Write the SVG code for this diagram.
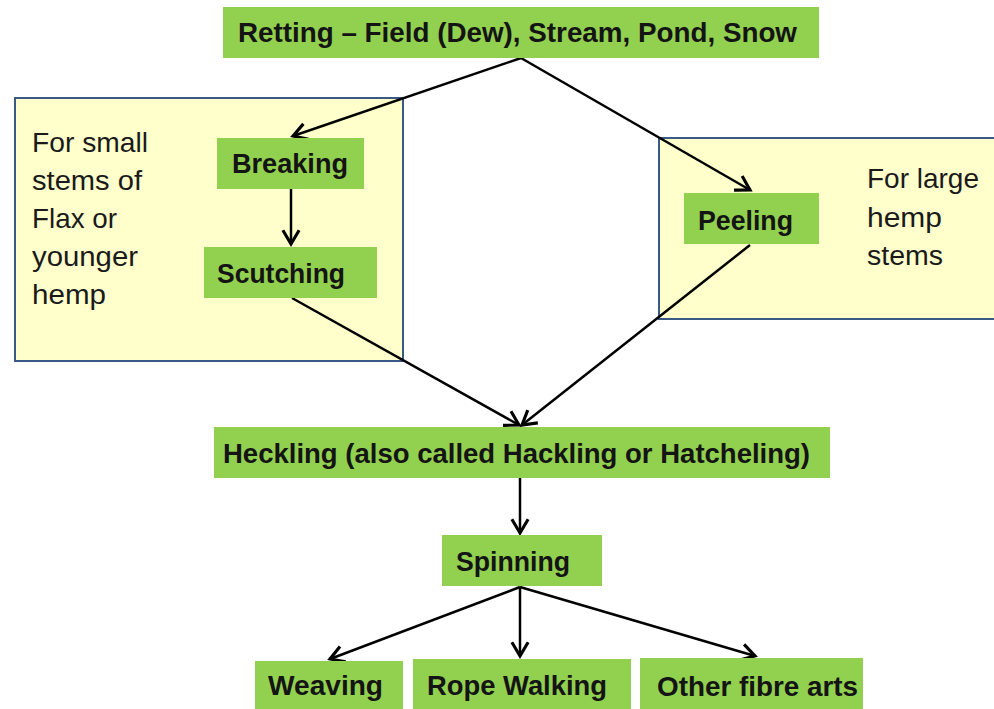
<svg xmlns="http://www.w3.org/2000/svg" width="994" height="709" viewBox="0 0 994 709">
<defs>
<style>
.panel{fill:#ffffcc;stroke:#3a5a86;stroke-width:2}
.box{fill:#92d050}
.lbl{font-family:"Liberation Sans",Arial,sans-serif;font-weight:bold;font-size:28px;fill:#141414}
.note{font-family:"Liberation Sans",Arial,sans-serif;font-size:27.5px;fill:#1a1a1a}
.edge{fill:none;stroke:#000;stroke-width:2.5;marker-end:url(#arr)}
</style>
<marker id="arr" markerUnits="userSpaceOnUse" markerWidth="20" markerHeight="20" refX="0" refY="0" viewBox="-12 -8 14 16" orient="auto" overflow="visible">
<path d="M-11,-6.5 L0,0 L-11,6.5" fill="none" stroke="#000" stroke-width="2.5" stroke-linejoin="miter"/>
</marker>
</defs>
<rect width="994" height="709" fill="#ffffff"/>

<g id="panel-small">
<rect class="panel" x="15" y="98" width="388" height="263"/>
<text class="note" x="32" y="152" textLength="116" lengthAdjust="spacingAndGlyphs">For small</text>
<text class="note" x="32" y="190" textLength="110" lengthAdjust="spacingAndGlyphs">stems of</text>
<text class="note" x="32" y="228" textLength="85" lengthAdjust="spacingAndGlyphs">Flax or</text>
<text class="note" x="32" y="266" textLength="106" lengthAdjust="spacingAndGlyphs">younger</text>
<text class="note" x="32" y="304" textLength="74" lengthAdjust="spacingAndGlyphs">hemp</text>
</g>

<g id="panel-large">
<rect class="panel" x="659" y="138" width="345" height="181"/>
<text class="note" x="867" y="188" textLength="112" lengthAdjust="spacingAndGlyphs">For large</text>
<text class="note" x="867" y="227" textLength="75" lengthAdjust="spacingAndGlyphs">hemp</text>
<text class="note" x="867" y="265" textLength="76" lengthAdjust="spacingAndGlyphs">stems</text>
</g>

<g id="connectors">
<path class="edge" d="M521,58 L293,136"/>
<path class="edge" d="M521,58 L750,190"/>
<path class="edge" d="M291,189 L291,244"/>
<path class="edge" d="M292,298 L519,425"/>
<path class="edge" d="M750,245 L522,425"/>
<path class="edge" d="M520,478 L520,533"/>
<path class="edge" d="M520,587 L330,659"/>
<path class="edge" d="M520,587 L520,656"/>
<path class="edge" d="M520,587 L755,656"/>
</g>

<g id="retting">
<rect class="box" x="223" y="7" width="596" height="51"/>
<text class="lbl" x="238" y="42" textLength="559" lengthAdjust="spacingAndGlyphs">Retting – Field (Dew), Stream, Pond, Snow</text>
</g>

<g id="breaking">
<rect class="box" x="217" y="138" width="147" height="51"/>
<text class="lbl" x="232" y="173" textLength="116" lengthAdjust="spacingAndGlyphs">Breaking</text>
</g>

<g id="scutching">
<rect class="box" x="204" y="247" width="173" height="51"/>
<text class="lbl" x="217" y="283" textLength="128" lengthAdjust="spacingAndGlyphs">Scutching</text>
</g>

<g id="peeling">
<rect class="box" x="684" y="193" width="135" height="51"/>
<text class="lbl" x="698" y="230" textLength="95" lengthAdjust="spacingAndGlyphs">Peeling</text>
</g>

<g id="heckling">
<rect class="box" x="214" y="427" width="616" height="51"/>
<text class="lbl" x="223" y="463" textLength="587" lengthAdjust="spacingAndGlyphs">Heckling (also called Hackling or Hatcheling)</text>
</g>

<g id="spinning">
<rect class="box" x="442" y="535" width="160" height="51"/>
<text class="lbl" x="456" y="571" textLength="114" lengthAdjust="spacingAndGlyphs">Spinning</text>
</g>

<g id="weaving">
<rect class="box" x="255" y="661" width="148" height="60"/>
<text class="lbl" x="268" y="695" textLength="115" lengthAdjust="spacingAndGlyphs">Weaving</text>
</g>

<g id="rope-walking">
<rect class="box" x="413" y="659" width="218" height="60"/>
<text class="lbl" x="427" y="695" textLength="180" lengthAdjust="spacingAndGlyphs">Rope Walking</text>
</g>

<g id="other-fibre-arts">
<rect class="box" x="640" y="658" width="223" height="60"/>
<text class="lbl" x="657" y="696" textLength="201" lengthAdjust="spacingAndGlyphs">Other fibre arts</text>
</g>
</svg>
